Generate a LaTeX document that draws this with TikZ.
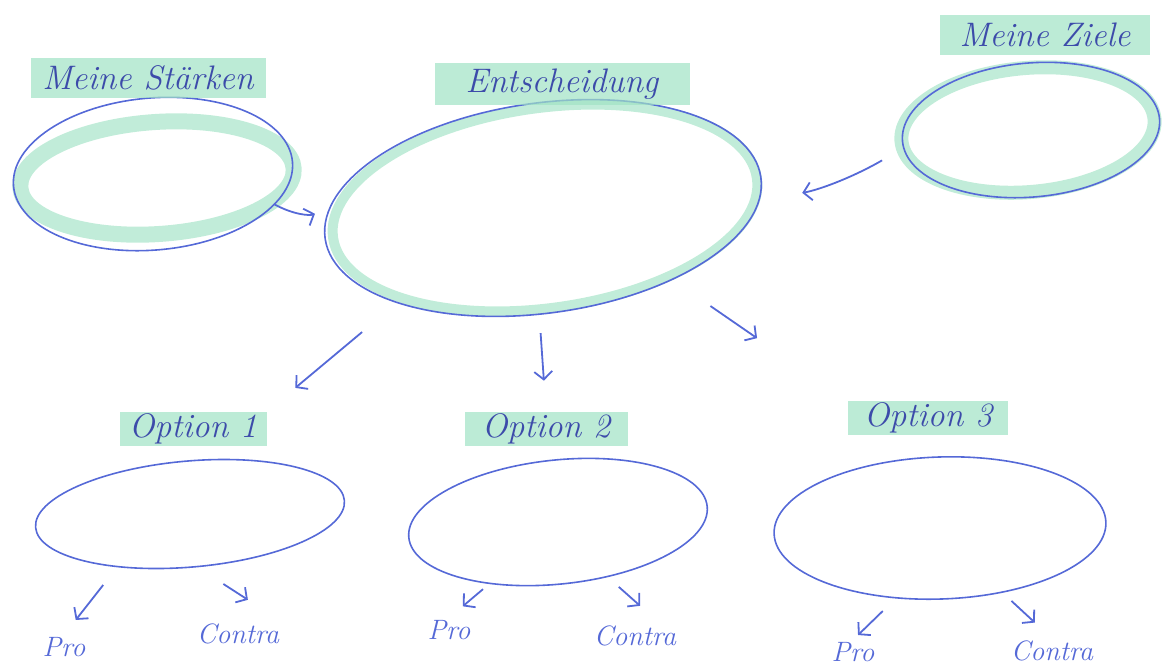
\documentclass[tikz,border=0pt]{standalone}
\usepackage{tikz}
\usetikzlibrary{shapes.geometric, arrows.meta, positioning}

\definecolor{pen}{RGB}{85,105,215}
\definecolor{ink}{RGB}{60,75,170}
\definecolor{marker}{RGB}{160,226,196}

\tikzset{
  blob/.style={ellipse, draw=pen, line width=0.8pt, inner sep=0pt, outer sep=0pt},
  hlabel/.style={fill=marker, fill opacity=0.7, text opacity=1, text=ink, inner sep=0pt,
    font=\fontsize{17}{20}\selectfont\itshape},
  pc/.style={text=pen, inner sep=1pt, font=\fontsize{14}{16}\selectfont\itshape},
  hand/.style={draw=pen, line width=0.9pt, -{Straight Barb[length=4pt,width=9pt]}},
  ring/.style={draw=marker, line width=8pt, opacity=0.65},
}

\begin{document}
\begin{tikzpicture}[x=0.5pt, y=-0.5pt]
    \useasboundingbox (0,0) rectangle (1167,666);
    % marker strokes behind the big circles
    \draw[ring, rotate around={4:(157,178)}] (157,178) ellipse [x radius=68.5pt, y radius=28pt];
    \draw[ring, line width=5pt, rotate around={8:(545,208)}] (545,208) ellipse [x radius=107pt, y radius=50pt];
    \draw[ring, line width=7pt, rotate around={5:(1028,130)}] (1028,130) ellipse [x radius=63.5pt, y radius=31pt];

    \node[blob, rotate=5, minimum width=140pt, minimum height=76pt] (staerken) at (153,174) {};
    \node[blob, rotate=8, minimum width=220pt, minimum height=105pt] (entsch) at (543,208) {};
    \node[blob, rotate=5, minimum width=129pt, minimum height=67pt] (ziele) at (1031,130) {};

    \node[hlabel, minimum width=117.5pt, minimum height=20pt] (staerkenlab) at (148,78) {Meine Stärken};
    \node[hlabel, minimum width=127.5pt, minimum height=21pt] (entschlab) at (562,84) {Entscheidung};
    \node[hlabel, minimum width=105pt, minimum height=20pt] (zielelab) at (1045,35) {Meine Ziele};

    % options
    \foreach \n/\x/\y/\w/\h/\r in {1/190/514/155/53/5, 2/558/522/150/62/6, 3/940/528/166/71/2}
        \node[blob, rotate=\r, minimum width=\w pt, minimum height=\h pt] (opt\n) at (\x,\y) {};
    \foreach \n/\x/\y/\w in {1/193/429/73.5, 2/546/429/81.5, 3/928/418/80}
        \node[hlabel, minimum width=\w pt, minimum height=17pt] (opt\n lab) at (\x,\y) {Option \n};
    \foreach \n/\px/\py/\cx/\cy in {1/64/647/238/634, 2/449/630/635/636, 3/853/652/1052/651} {
        \node[pc] (pro\n) at (\px,\py) {Pro};
        \node[pc] (contra\n) at (\cx,\cy) {Contra};
    }

    \draw[hand, shorten >=8pt] (staerken.-19) to[bend right=25] (entsch.172);
    \draw[hand, shorten <=12.5pt, shorten >=22pt] (ziele.183) to[bend left=10] (entsch.-6);
    \draw[hand, shorten <=23pt, shorten >=18.5pt] (entsch.205) -- (opt1lab.north east);
    \draw[hand, shorten <=9.5pt, shorten >=15.5pt] (entsch.260.6) -- (opt2lab.north);
    \draw[hand, shorten <=23.4pt, shorten >=55pt] (entsch.-37.9) -- (opt3lab.north west);

    \draw[hand, shorten <=11.7pt, shorten >=9.5pt] (opt1.211) -- (pro1.north);
    \draw[hand, shorten <=16pt, shorten >=20pt] (opt1.272) -- (contra1.north east);
    \draw[hand, shorten <=4.5pt, shorten >=9pt] (opt2.216) -- (pro2.north);
    \draw[hand, shorten <=7.8pt, shorten >=13.3pt] (opt2.-54.6) -- ([xshift=12.5pt]contra2.north);
    \draw[hand, shorten <=9.5pt, shorten >=3.5pt] (opt3.236) -- (pro3.north);
    \draw[hand, shorten <=6.5pt, shorten >=11.7pt] (opt3.312) -- (contra3.north);
\end{tikzpicture}
\end{document}
